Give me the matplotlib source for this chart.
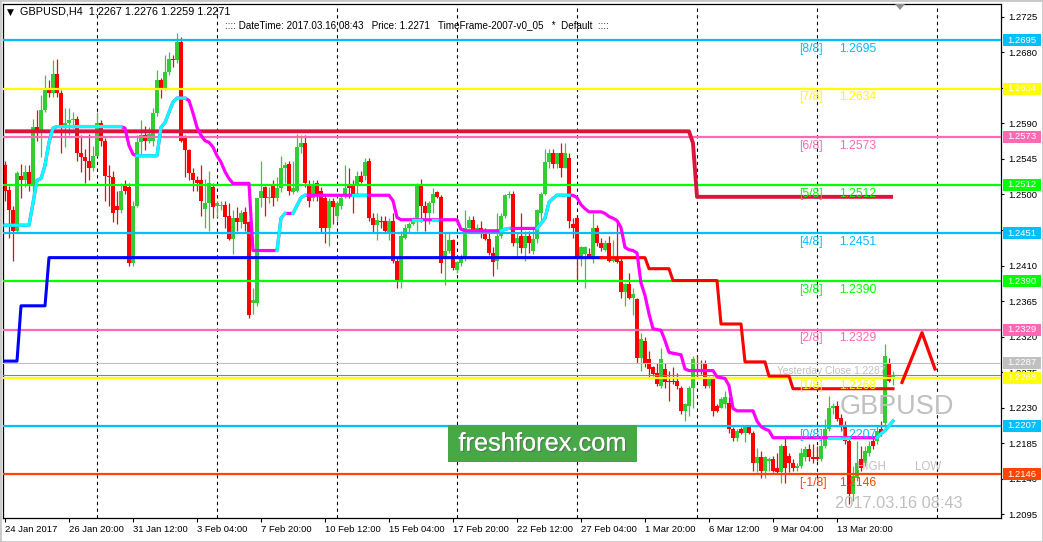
import matplotlib
matplotlib.use('Agg')
import matplotlib.pyplot as plt
import matplotlib.transforms as mtransforms
from matplotlib.patches import Rectangle, Polygon
import matplotlib.patheffects as pe
import numpy as np

# ---------------- data ----------------
opens = [
1.2537,1.2506,1.2480,1.2454,1.2524,1.2518,1.2528,1.2511,1.2585,1.2579,
1.2607,1.2632,1.2629,1.2653,1.2628,1.2585,1.2590,1.2594,1.2596,1.2552,
1.2547,1.2543,1.2533,1.2549,1.2591,1.2568,1.2524,1.2522,1.2486,1.2480,
1.2511,1.2510,1.2413,1.2486,1.2566,1.2575,1.2568,1.2568,1.2603,1.2645,
1.2634,1.2655,1.2672,1.2670,1.2693,1.2572,1.2556,1.2527,1.2518,1.2518,
1.2481,1.2489,1.2509,1.2486,1.2486,1.2487,1.2473,1.2444,1.2470,1.2465,
1.2478,1.2465,1.2363,1.2363,1.2495,1.2509,1.2495,1.2511,1.2496,1.2508,
1.2533,1.2539,1.2503,1.2505,1.2560,1.2565,1.2511,1.2496,1.2514,1.2505,
1.2496,1.2458,1.2492,1.2473,1.2486,1.2501,1.2511,1.2511,1.2511,1.2524,
1.2524,1.2543,1.2470,1.2461,1.2467,1.2467,1.2452,1.2467,1.2416,1.2391,
1.2445,1.2457,1.2463,1.2467,1.2511,1.2486,1.2476,1.2489,1.2503,1.2497,
1.2419,1.2429,1.2442,1.2404,1.2413,1.2419,1.2458,1.2468,1.2454,1.2457,
1.2452,1.2444,1.2426,1.2416,1.2448,1.2473,1.2499,1.2501,1.2438,1.2447,
1.2432,1.2448,1.2429,1.2444,1.2477,1.2501,1.2541,1.2552,1.2539,1.2552,
1.2534,1.2546,1.2463,1.2470,1.2420,1.2425,1.2425,1.2420,1.2458,1.2438,
1.2430,1.2438,1.2416,1.2419,1.2416,1.2376,1.2387,1.2369,1.2368,1.2293,
1.2315,1.2292,1.2281,1.2274,1.2258,1.2279,1.2264,1.2264,1.2264,1.2255,
1.2226,1.2232,1.2255,1.2287,1.2287,1.2286,1.2258,1.2268,1.2232,1.2230,
1.2235,1.2236,1.2203,1.2191,1.2203,1.2198,1.2205,1.2198,1.2160,1.2167,
1.2150,1.2163,1.2165,1.2154,1.2148,1.2182,1.2169,1.2160,1.2154,1.2156,
1.2167,1.2178,1.2167,1.2167,1.2165,1.2182,1.2203,1.2229,1.2232,1.2217,
1.2207,1.2188,1.2121,1.2141,1.2165,1.2160,1.2173,1.2188,1.2188,1.2203,
1.2210,1.2287,1.2267]

highs = [
1.2542,1.2511,1.2486,1.2530,1.2539,1.2537,1.2537,1.2596,1.2607,1.2626,
1.2651,1.2645,1.2670,1.2671,1.2632,1.2609,1.2610,1.2604,1.2600,1.2575,
1.2558,1.2577,1.2562,1.2604,1.2594,1.2572,1.2537,1.2530,1.2505,1.2514,
1.2518,1.2514,1.2492,1.2575,1.2594,1.2587,1.2586,1.2609,1.2657,1.2647,
1.2676,1.2680,1.2676,1.2704,1.2699,1.2575,1.2558,1.2533,1.2524,1.2537,
1.2520,1.2530,1.2514,1.2492,1.2492,1.2492,1.2489,1.2480,1.2484,1.2480,
1.2484,1.2467,1.2382,1.2496,1.2543,1.2511,1.2509,1.2518,1.2522,1.2549,
1.2541,1.2543,1.2543,1.2577,1.2575,1.2575,1.2518,1.2518,1.2518,1.2509,
1.2501,1.2496,1.2496,1.2492,1.2501,1.2537,1.2534,1.2518,1.2530,1.2530,
1.2546,1.2546,1.2476,1.2476,1.2473,1.2473,1.2470,1.2476,1.2420,1.2454,
1.2463,1.2465,1.2471,1.2515,1.2520,1.2492,1.2492,1.2508,1.2505,1.2499,
1.2451,1.2451,1.2444,1.2416,1.2425,1.2480,1.2473,1.2473,1.2463,1.2467,
1.2457,1.2454,1.2433,1.2476,1.2476,1.2501,1.2505,1.2505,1.2451,1.2477,
1.2454,1.2454,1.2457,1.2482,1.2503,1.2558,1.2558,1.2558,1.2553,1.2565,
1.2565,1.2552,1.2470,1.2471,1.2435,1.2435,1.2432,1.2476,1.2461,1.2445,
1.2442,1.2448,1.2442,1.2465,1.2419,1.2388,1.2401,1.2382,1.2369,1.2324,
1.2319,1.2302,1.2283,1.2286,1.2305,1.2286,1.2277,1.2281,1.2274,1.2258,
1.2236,1.2258,1.2296,1.2296,1.2290,1.2290,1.2270,1.2270,1.2235,1.2243,
1.2251,1.2243,1.2205,1.2203,1.2205,1.2207,1.2207,1.2201,1.2179,1.2175,
1.2169,1.2167,1.2169,1.2172,1.2184,1.2191,1.2173,1.2165,1.2160,1.2179,
1.2182,1.2184,1.2184,1.2182,1.2192,1.2216,1.2245,1.2236,1.2239,1.2222,
1.2213,1.2191,1.2156,1.2188,1.2182,1.2182,1.2188,1.2194,1.2207,1.2213,
1.2311,1.2293,1.2276]

lows = [
1.2492,1.2445,1.2416,1.2452,1.2496,1.2509,1.2505,1.2487,1.2568,1.2547,
1.2604,1.2623,1.2623,1.2623,1.2552,1.2560,1.2575,1.2584,1.2543,1.2528,
1.2514,1.2518,1.2530,1.2556,1.2562,1.2492,1.2486,1.2465,1.2463,1.2476,
1.2501,1.2410,1.2409,1.2484,1.2549,1.2556,1.2565,1.2562,1.2600,1.2622,
1.2632,1.2651,1.2661,1.2667,1.2566,1.2522,1.2518,1.2505,1.2505,1.2473,
1.2458,1.2454,1.2470,1.2471,1.2480,1.2458,1.2442,1.2425,1.2454,1.2458,
1.2454,1.2344,1.2349,1.2359,1.2484,1.2473,1.2489,1.2486,1.2492,1.2503,
1.2514,1.2499,1.2501,1.2503,1.2553,1.2509,1.2484,1.2492,1.2492,1.2451,
1.2438,1.2435,1.2463,1.2467,1.2482,1.2495,1.2496,1.2477,1.2501,1.2514,
1.2518,1.2467,1.2451,1.2442,1.2457,1.2451,1.2442,1.2413,1.2381,1.2382,
1.2444,1.2451,1.2461,1.2454,1.2465,1.2454,1.2463,1.2477,1.2495,1.2400,
1.2385,1.2426,1.2404,1.2401,1.2410,1.2416,1.2457,1.2451,1.2452,1.2445,
1.2442,1.2423,1.2397,1.2406,1.2445,1.2470,1.2496,1.2435,1.2420,1.2426,
1.2416,1.2426,1.2425,1.2439,1.2467,1.2499,1.2534,1.2533,1.2534,1.2522,
1.2533,1.2457,1.2445,1.2391,1.2410,1.2381,1.2419,1.2413,1.2435,1.2429,
1.2429,1.2414,1.2414,1.2413,1.2369,1.2359,1.2368,1.2347,1.2286,1.2277,
1.2281,1.2268,1.2270,1.2258,1.2255,1.2255,1.2239,1.2260,1.2254,1.2222,
1.2213,1.2220,1.2230,1.2268,1.2273,1.2255,1.2255,1.2220,1.2224,1.2229,
1.2229,1.2198,1.2188,1.2188,1.2197,1.2186,1.2197,1.2150,1.2148,1.2141,
1.2141,1.2150,1.2148,1.2146,1.2135,1.2134,1.2148,1.2150,1.2150,1.2154,
1.2163,1.2163,1.2160,1.2163,1.2163,1.2179,1.2201,1.2222,1.2213,1.2201,
1.2184,1.2108,1.2112,1.2137,1.2150,1.2156,1.2169,1.2178,1.2184,1.2194,
1.2207,1.2262,1.2259]

closes = [
1.2505,1.2480,1.2454,1.2527,1.2518,1.2528,1.2511,1.2585,1.2579,1.2607,
1.2632,1.2629,1.2653,1.2628,1.2585,1.2590,1.2594,1.2596,1.2552,1.2547,
1.2543,1.2533,1.2549,1.2591,1.2568,1.2524,1.2522,1.2476,1.2480,1.2505,
1.2505,1.2413,1.2486,1.2566,1.2575,1.2568,1.2577,1.2603,1.2645,1.2634,
1.2655,1.2672,1.2670,1.2693,1.2568,1.2556,1.2527,1.2518,1.2515,1.2492,
1.2489,1.2514,1.2484,1.2489,1.2487,1.2471,1.2444,1.2470,1.2465,1.2476,
1.2463,1.2347,1.2366,1.2495,1.2505,1.2496,1.2497,1.2496,1.2508,1.2534,
1.2537,1.2504,1.2508,1.2560,1.2565,1.2514,1.2492,1.2511,1.2499,1.2458,
1.2458,1.2492,1.2484,1.2489,1.2496,1.2508,1.2508,1.2499,1.2524,1.2516,
1.2541,1.2470,1.2461,1.2468,1.2465,1.2454,1.2467,1.2416,1.2391,1.2448,
1.2458,1.2463,1.2467,1.2511,1.2486,1.2476,1.2489,1.2501,1.2497,1.2413,
1.2429,1.2442,1.2407,1.2414,1.2419,1.2458,1.2468,1.2454,1.2458,1.2451,
1.2444,1.2426,1.2414,1.2448,1.2473,1.2499,1.2501,1.2438,1.2445,1.2432,
1.2448,1.2438,1.2444,1.2480,1.2501,1.2541,1.2553,1.2539,1.2552,1.2534,
1.2552,1.2467,1.2457,1.2420,1.2433,1.2433,1.2420,1.2457,1.2438,1.2432,
1.2439,1.2416,1.2419,1.2414,1.2376,1.2387,1.2369,1.2374,1.2293,1.2317,
1.2287,1.2279,1.2273,1.2260,1.2292,1.2262,1.2263,1.2262,1.2258,1.2226,
1.2235,1.2255,1.2292,1.2286,1.2286,1.2258,1.2268,1.2226,1.2226,1.2241,
1.2243,1.2203,1.2191,1.2201,1.2198,1.2205,1.2198,1.2160,1.2167,1.2150,
1.2167,1.2165,1.2150,1.2148,1.2182,1.2154,1.2160,1.2154,1.2156,1.2173,
1.2178,1.2167,1.2165,1.2165,1.2182,1.2203,1.2230,1.2232,1.2216,1.2207,
1.2188,1.2121,1.2144,1.2160,1.2154,1.2175,1.2182,1.2182,1.2201,1.2198,
1.2296,1.2264,1.2271]

# trend line (cyan = up, magenta = down), breakpoints (bar index, price)
trend_idx = [0, 6, 7, 8, 9, 10, 11, 12, 13, 29, 30, 31, 32, 33, 38, 39, 40, 41, 42, 43, 45,
             46, 47, 48, 49, 50, 51, 52, 53, 54, 55, 56, 57, 61, 62, 68, 69, 70, 72, 73, 74, 75,
             87, 90, 96, 97, 98, 99, 102, 104, 107, 108, 113, 114, 115, 124, 125, 126, 133,
             134, 135, 136, 137, 138, 141, 142, 143, 144, 145, 146, 149, 150, 151, 152, 153,
             154, 155, 156, 157, 158, 159, 160, 161, 162, 164, 165, 166, 168, 169, 170, 171,
             177, 178, 179, 180, 181, 182, 183, 187, 188, 189, 190, 191, 192, 206, 211, 218,
             219, 220, 221, 222]
trend_val = [1.2461, 1.2461, 1.2489, 1.2518, 1.2520, 1.2537, 1.2566, 1.2584, 1.2586, 1.2586,
             1.2584, 1.2562, 1.2551, 1.2549, 1.2549, 1.2585, 1.2591, 1.2604, 1.2617, 1.2622, 1.2622,
             1.2619, 1.2603, 1.2585, 1.2575, 1.2568, 1.2566, 1.2560, 1.2549, 1.2541, 1.2529, 1.2520,
             1.2514, 1.2514, 1.2429, 1.2429, 1.2470, 1.2476, 1.2476, 1.2486, 1.2496, 1.2499,
             1.2499, 1.2499, 1.2499, 1.2492, 1.2471, 1.2468, 1.2468, 1.2468, 1.2468, 1.2468, 1.2468,
             1.2456, 1.2454, 1.2454, 1.2456, 1.2457, 1.2457,
             1.2463, 1.2470, 1.2490, 1.2495, 1.2499, 1.2499, 1.2499, 1.2496, 1.2487, 1.2482, 1.2478,
             1.2478, 1.2476, 1.2472, 1.2470, 1.2467,
             1.2458, 1.2433, 1.2430, 1.2429, 1.2426, 1.2388, 1.2372, 1.2349, 1.2330, 1.2328, 1.2315,
             1.2300, 1.2298, 1.2297, 1.2279, 1.2277,
             1.2277, 1.2269, 1.2268, 1.2267, 1.2258, 1.2229, 1.2226, 1.2226, 1.2213, 1.2206, 1.2203,
             1.2201, 1.2192, 1.2192, 1.2192, 1.2192,
             1.2197, 1.2201, 1.2207, 1.2213]
cyan_spans = [(0, 29), (33, 45), (68, 70), (72, 75), (87, 90), (102, 104), (107, 108),
              (124, 126), (133, 141), (206, 211), (218, 222)]

# trailing stop (blue, then red): step starts and levels
trail_start = [0, 4, 11, 161, 167, 179, 185, 191, 197]
trail_level = [1.2289, 1.2359, 1.2420, 1.2406, 1.2391, 1.2336, 1.2288, 1.2270, 1.2254]
trail_switch = 149

# crimson level line
crimson_idx = [0, 171, 172, 173, 222]
crimson_val = [1.2580, 1.2580, 1.2565, 1.2497, 1.2497]

# Murrey math levels
levels = [1.2695, 1.2634, 1.2573, 1.2512, 1.2451, 1.2390, 1.2329, 1.2268, 1.2207, 1.2146]
level_names = ['[8/8]', '[7/8]', '[6/8]', '[5/8]', '[4/8]', '[3/8]', '[2/8]', '[1/8]', '[0/8]', '[-1/8]']
level_colors = ['#00BFFF', '#FFFF00', '#FF69B4', '#00FF00', '#00BFFF', '#00FF00',
                '#FF69B4', '#FFFF00', '#00BFFF', '#FF4500']
yesterday_close = 1.2287
bid = 1.2271

# red "hat" arrow
hat_x = [224.25, 229.25, 232.5]
hat_y = [1.2262, 1.2325, 1.2279]

right_ticks = [1.2725, 1.2680, 1.2635, 1.2590, 1.2545, 1.2500, 1.2455, 1.2410, 1.2365,
               1.2320, 1.2275, 1.2230, 1.2185, 1.2140, 1.2095]
hidden_ticks = [1.2635, 1.2455]
x_tick_idx = [0, 16, 32, 48, 64, 80, 96, 112, 128, 144, 160, 176, 192, 208]
x_tick_labels = ['24 Jan 2017', '26 Jan 20:00', '31 Jan 12:00', '3 Feb 04:00', '7 Feb 20:00',
                 '10 Feb 12:00', '15 Feb 04:00', '17 Feb 20:00', '22 Feb 12:00', '27 Feb 04:00',
                 '1 Mar 20:00', '6 Mar 12:00', '9 Mar 04:00', '13 Mar 20:00']
grid_idx = [23, 53, 83, 113, 143, 173, 203, 233]

# ---------------- figure ----------------
W, H = 1043, 542
fig = plt.figure(figsize=(W / 100, H / 100), dpi=100)
fig.patch.set_facecolor('white')
ax = fig.add_axes([3 / W, (H - 518) / H, (1001 - 3) / W, (518 - 4) / H])
ax.set_facecolor('white')
ax.set_xlim(-0.5, 249)
ax.set_ylim(1.20903, 1.27412)

FONT = ['Liberation Sans', 'DejaVu Sans']

o = np.array(opens); c = np.array(closes)
h = np.maximum(np.array(highs), np.maximum(o, c))
l = np.minimum(np.array(lows), np.minimum(o, c))
n = len(o)
x = np.arange(n)
up = c >= o
col = np.where(up, '#32CD32', '#FF0000')

ax.vlines(x, l, h, colors=col, linewidth=0.9, zorder=2)
body_bot = np.minimum(o, c)
body_h = np.maximum(np.abs(c - o), 0.00008)
ax.bar(x, body_h, bottom=body_bot, width=0.78, color=col, linewidth=0, zorder=2.1)

# vertical dashed grid
for gi in grid_idx:
    ax.axvline(gi, color='black', linewidth=0.8, linestyle=(0, (3, 3)), zorder=1)

# levels
for lv, cl in zip(levels, level_colors):
    ax.axhline(lv, color=cl, linewidth=1.6, zorder=3)
ax.axhline(yesterday_close, color='#C0C0C0', linewidth=0.8, zorder=3)
ax.axhline(bid, color='#778899', linewidth=0.8, zorder=3)

for lv, nm, cl in zip(levels, level_names, level_colors):
    ax.text(198.5, lv - 0.00035, nm, color=cl, fontsize=8.8, family=FONT, va='top', ha='left', zorder=5)
    ax.text(208.5, lv - 0.00035, f'{lv:.4f}', color=cl, fontsize=8.8, family=FONT, va='top', ha='left', zorder=5)

# crimson line
ax.plot(crimson_idx, crimson_val, color='#DC143C', linewidth=2.8, zorder=3.5, solid_capstyle='butt')

# trailing line
trail = np.empty(n)
for s, v in zip(trail_start, trail_level):
    trail[s:] = v
ax.plot(x[:trail_switch + 1], trail[:trail_switch + 1], color='#0000FF', linewidth=2.2, zorder=4)
ax.plot(x[trail_switch:], trail[trail_switch:], color='#FF0000', linewidth=2.2, zorder=4)

# trend line
ti = np.array(trend_idx); tv = np.array(trend_val)
ax.plot(ti, tv, color='#FF00FF', linewidth=2.3, zorder=4.2)
for a, b in cyan_spans:
    m = (ti >= a) & (ti <= b)
    ax.plot(ti[m], tv[m], color='#00FFFF', linewidth=2.3, zorder=4.3)

# red hat
ax.plot(hat_x, hat_y, color='#FF0000', linewidth=2.3, zorder=4.5)

# texts in chart
ax.text(193, yesterday_close - 0.0004, 'Yesterday Close 1.2287', color='#C0C0C0', fontsize=7.4,
        family=FONT, va='top', ha='left', zorder=5)
ax.text(208.75, 1.2222, 'GBPUSD', color='#C0C0C0', fontsize=19.5, family=FONT, va='baseline',
        ha='left', zorder=5)
ax.text(213, 1.2151, 'HIGH', color='#C0C0C0', fontsize=8.3, family=FONT, va='baseline', ha='left', zorder=5)
ax.text(227.5, 1.2151, 'LOW', color='#C0C0C0', fontsize=8.3, family=FONT, va='baseline', ha='left', zorder=5)
ax.text(207.5, 1.2103, '2017.03.16 08:43', color='#C0C0C0', fontsize=11.8, family=FONT,
        va='baseline', ha='left', zorder=5)

# freshforex box
ax.add_patch(Rectangle((110.75, 1.2161), 47.25, 0.0047, facecolor='#46A846', edgecolor='none', zorder=6))
ax.text(134.4, 1.21845, 'freshforex.com', color='white', fontsize=18.3, family=FONT, ha='center',
        va='center', zorder=7,
        path_effects=[pe.withSimplePatchShadow(offset=(1, -1), shadow_rgbFace='#606060', alpha=0.6), pe.Normal()])

# axes styling
for sp in ax.spines.values():
    sp.set_color('black')
    sp.set_linewidth(0.9)
ax.yaxis.tick_right()
ax.set_yticks(right_ticks)
ax.set_yticklabels(['' if t in hidden_ticks else f'{t:.4f}' for t in right_ticks])
ax.tick_params(axis='y', direction='out', length=2.5, width=0.8, pad=3, labelsize=6.8, colors='black')
ax.set_xticks(x_tick_idx)
ax.set_xticklabels(x_tick_labels)
ax.tick_params(axis='x', direction='out', length=3, width=0.8, pad=2, labelsize=6.8, colors='black')
for lab in ax.get_xticklabels() + ax.get_yticklabels():
    lab.set_family(FONT)
for lab in ax.get_xticklabels():
    lab.set_ha('left')

# right-side coloured price boxes
blend = mtransforms.blended_transform_factory(fig.transFigure, ax.transData)
box_prices = levels + [yesterday_close]
box_colors = level_colors + ['#C0C0C0']
bh = 12 / 7896
for bp, bc in zip(box_prices, box_colors):
    r = Rectangle((1003 / W, bp - bh / 2), 38 / W, bh, transform=blend, facecolor=bc,
                  edgecolor='none', zorder=10, clip_on=False)
    fig.add_artist(r)
    fig.text(1022 / W, bp, f'{bp:.4f}', transform=blend, ha='center', va='center', color='white',
             fontsize=6.8, family=FONT, zorder=11)

# header texts
fig.text(7 / W, 1 - 12 / H, '\u25BC', fontsize=6.5, family=['DejaVu Sans'], va='center', ha='left', color='black')
fig.text(20 / W, 1 - 12 / H, 'GBPUSD,H4  1.2267 1.2276 1.2259 1.2271', fontsize=7.8, family=FONT,
         va='center', ha='left', color='black')
fig.text(225 / W, 1 - 25 / H,
         ':::: DateTime: 2017.03.16 08:43   Price: 1.2271   TimeFrame-2007-v0_05   *  Default  ::::',
         fontsize=7.1, family=FONT, va='center', ha='left', color='black')

# chart-shift triangle
fig.add_artist(Polygon([(895 / W, 1 - 4 / H), (905 / W, 1 - 4 / H), (900 / W, 1 - 10 / H)],
                       closed=True, facecolor='#909090', edgecolor='none', transform=fig.transFigure))

# outer light border
fig.add_artist(Rectangle((0, 0), 1, 1, transform=fig.transFigure, fill=False,
                         edgecolor='#C8C8C8', linewidth=2))

fig.savefig('out.png', dpi=100)
